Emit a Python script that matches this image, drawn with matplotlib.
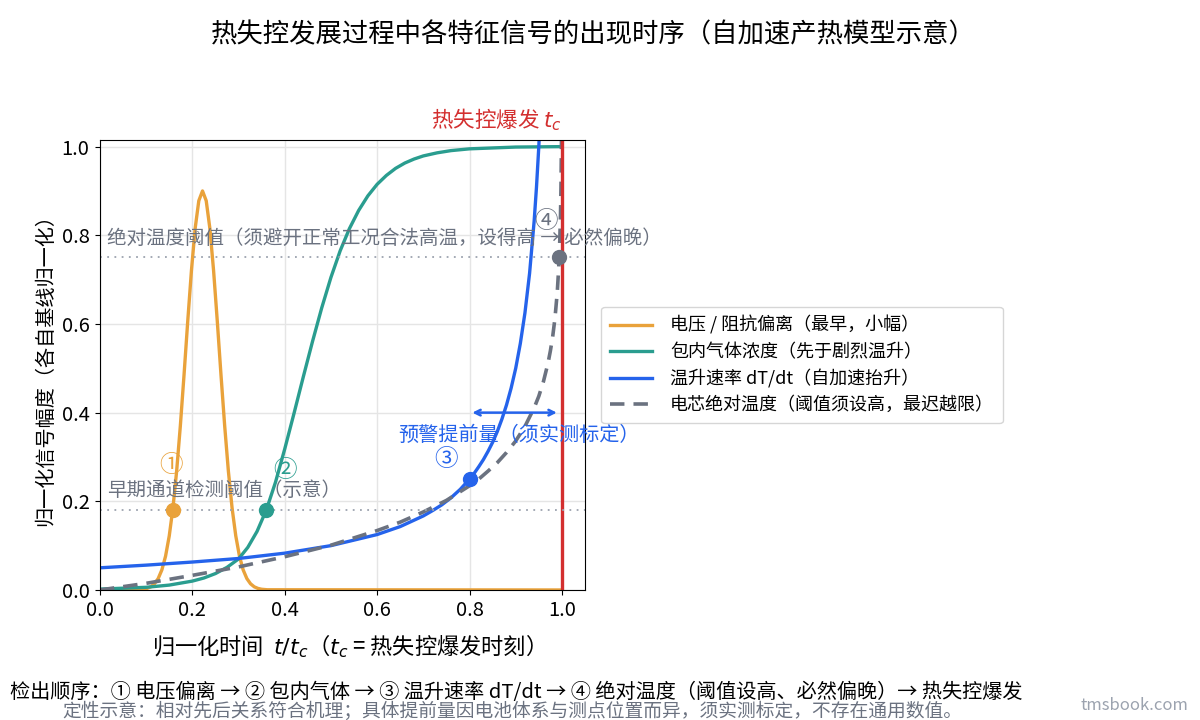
import matplotlib
matplotlib.use("Agg")
import matplotlib.pyplot as plt

plt.rcParams['font.family'] = ['Noto Sans CJK SC', 'DejaVu Sans']
plt.rcParams['axes.unicode_minus'] = False

# 电压 / 阻抗偏离
volt_t = [0.0, 0.082, 0.094, 0.102, 0.110, 0.118, 0.126, 0.134, 0.142, 0.150, 0.158, 0.166, 0.174,
          0.182, 0.190, 0.198, 0.206, 0.214, 0.222, 0.230, 0.238, 0.246, 0.254, 0.262, 0.270,
          0.278, 0.286, 0.294, 0.302, 0.310, 0.318, 0.326, 0.334, 0.342, 0.350, 0.362, 1.0]
volt_v = [0.0, 0.0005, 0.0016, 0.0035, 0.0071, 0.0139, 0.0257, 0.0453, 0.0762, 0.122, 0.185, 0.268, 0.370,
          0.485, 0.606, 0.720, 0.815, 0.878, 0.90, 0.878, 0.815, 0.720, 0.606, 0.485, 0.370,
          0.268, 0.185, 0.122, 0.0762, 0.0453, 0.0257, 0.0139, 0.0071, 0.0035, 0.0016, 0.0005, 0.0]

# 包内气体浓度
gas_t = [0.0, 0.05, 0.10, 0.15, 0.20, 0.225, 0.25, 0.275, 0.30, 0.32, 0.34, 0.36, 0.38, 0.40, 0.42,
         0.44, 0.46, 0.48, 0.50, 0.52, 0.54, 0.56, 0.58, 0.60, 0.62, 0.64, 0.66, 0.68, 0.70,
         0.73, 0.76, 0.80, 0.85, 0.90, 1.0]
gas_v = [0.002, 0.004, 0.006, 0.011, 0.02, 0.027, 0.037, 0.051, 0.07, 0.096, 0.132, 0.18, 0.243, 0.318, 0.398,
         0.48, 0.56, 0.636, 0.705, 0.765, 0.815, 0.856, 0.889, 0.915, 0.935, 0.951, 0.963, 0.972, 0.979,
         0.986, 0.991, 0.995, 0.997, 0.999, 1.0]

# 温升速率 dT/dt
rate_t = [0.0, 0.1, 0.2, 0.3, 0.4, 0.5, 0.6, 0.65, 0.7, 0.72, 0.74, 0.76, 0.78, 0.8, 0.81, 0.82, 0.83,
          0.84, 0.85, 0.86, 0.87, 0.88, 0.89, 0.90, 0.91, 0.92, 0.93, 0.94, 0.945, 0.95, 0.955]
rate_v = [0.05, 0.056, 0.063, 0.071, 0.083, 0.10, 0.125, 0.143, 0.167, 0.179, 0.192, 0.208, 0.227, 0.25, 0.263,
          0.278, 0.294, 0.3125, 0.333, 0.357, 0.385, 0.417, 0.455, 0.50, 0.556, 0.625, 0.714, 0.833, 0.909,
          1.0, 1.111]

# 电芯绝对温度
temp_t = [0.0, 0.1, 0.2, 0.3, 0.4, 0.5, 0.6, 0.65, 0.7, 0.75, 0.8, 0.82, 0.84, 0.86, 0.88, 0.9, 0.92,
          0.94, 0.95, 0.96, 0.97, 0.975, 0.98, 0.985, 0.99, 0.993, 0.995, 0.997, 0.998, 0.999, 0.9995]
temp_v = [0.0, 0.015, 0.033, 0.052, 0.075, 0.101, 0.134, 0.153, 0.176, 0.202, 0.235, 0.250, 0.268, 0.287,
          0.310, 0.336, 0.369, 0.411, 0.437, 0.470, 0.512, 0.539, 0.571, 0.613, 0.672, 0.725, 0.774,
          0.848, 0.907, 1.008, 1.11]

early_thr = 0.18
abs_thr = 0.75
mark_t = [0.158, 0.36, 0.80, 0.994]
mark_v = [0.18, 0.18, 0.25, 0.75]
mark_lbl = ['①', '②', '③', '④']

c_volt = '#E9A23B'
c_gas = '#2A9D8F'
c_rate = '#2563EB'
c_temp = '#6B7280'
c_red = '#D32F2F'

fig = plt.figure(figsize=(12, 7.2), dpi=100)
ax = fig.add_axes([0.0833, 0.1806, 0.4042, 0.625])

ax.plot(volt_t, volt_v, color=c_volt, lw=2.4, label='电压 / 阻抗偏离（最早，小幅）')
ax.plot(gas_t, gas_v, color=c_gas, lw=2.4, label='包内气体浓度（先于剧烈温升）')
ax.plot(rate_t, rate_v, color=c_rate, lw=2.4, label='温升速率 dT/dt（自加速抬升）')
ax.plot(temp_t, temp_v, color=c_temp, lw=2.6, ls=(0, (4, 2.5)), label='电芯绝对温度（阈值须设高，最迟越限）')

ax.axvline(1.0, color=c_red, lw=2.4)
ax.text(1.0, 1.03, '热失控爆发 $t_c$', color=c_red, fontsize=15.5, ha='right', va='bottom')

ax.axhline(early_thr, color='#9CA3AF', lw=1.3, ls=(0, (1, 3)))
ax.axhline(abs_thr, color='#9CA3AF', lw=1.3, ls=(0, (1, 3)))
ax.text(0.015, abs_thr + 0.02, '绝对温度阈值（须避开正常工况合法高温，设得高 → 必然偏晚）',
        color='#6B7280', fontsize=14, va='bottom')
ax.text(0.015, early_thr + 0.02, '早期通道检测阈值（示意）', color='#6B7280', fontsize=14, va='bottom')

cols = [c_volt, c_gas, c_rate, c_temp]
lbl_pos = [(0.155, 0.28), (0.400, 0.27), (0.750, 0.295), (0.965, 0.83)]
for t, v, c, s, p in zip(mark_t, mark_v, cols, mark_lbl, lbl_pos):
    ax.plot(t, v, 'o', color=c, ms=10, zorder=5)
    ax.text(p[0], p[1], s, color=c, fontsize=17, ha='center', va='center', zorder=6)

ax.annotate('', xy=(0.8, 0.40), xytext=(0.995, 0.40),
            arrowprops=dict(arrowstyle='<->', color=c_rate, lw=1.8))
ax.text(0.907, 0.348, '预警提前量（须实测标定）', color=c_rate, fontsize=14.5, ha='center', va='center')

ax.set_xlim(0, 1.05)
ax.set_ylim(0, 1.015)
ax.set_xticks([0.0, 0.2, 0.4, 0.6, 0.8, 1.0])
ax.set_yticks([0.0, 0.2, 0.4, 0.6, 0.8, 1.0])
ax.tick_params(labelsize=14.5, pad=4)
ax.grid(True, color='#E5E5E5', lw=1.0)
ax.set_axisbelow(True)
ax.set_xlabel('归一化时间  $t/t_c$（$t_c$ = 热失控爆发时刻）', fontsize=16, labelpad=8)
ax.set_ylabel('归一化信号幅度（各自基线归一化）', fontsize=14.5)

ax.legend(loc='center left', bbox_to_anchor=(1.015, 0.5), fontsize=13, frameon=True,
          handlelength=2.3, borderpad=0.5, labelspacing=0.45, handletextpad=1.0)

fig.suptitle('热失控发展过程中各特征信号的出现时序（自加速产热模型示意）', fontsize=19, x=0.494, y=0.97)

fig.text(0.43, 0.038, '检出顺序：① 电压偏离 → ② 包内气体 → ③ 温升速率 dT/dt → ④ 绝对温度（阈值设高、必然偏晚）→ 热失控爆发',
         fontsize=14.5, ha='center', va='center')
fig.text(0.427, 0.012, '定性示意：相对先后关系符合机理；具体提前量因电池体系与测点位置而异，须实测标定，不存在通用数值。',
         fontsize=13.5, ha='center', va='center', color='#6B7280')
fig.text(0.99, 0.02, 'tmsbook.com', fontsize=12, ha='right', va='center', color='#9CA3AF')

fig.savefig('out.png', dpi=100)
